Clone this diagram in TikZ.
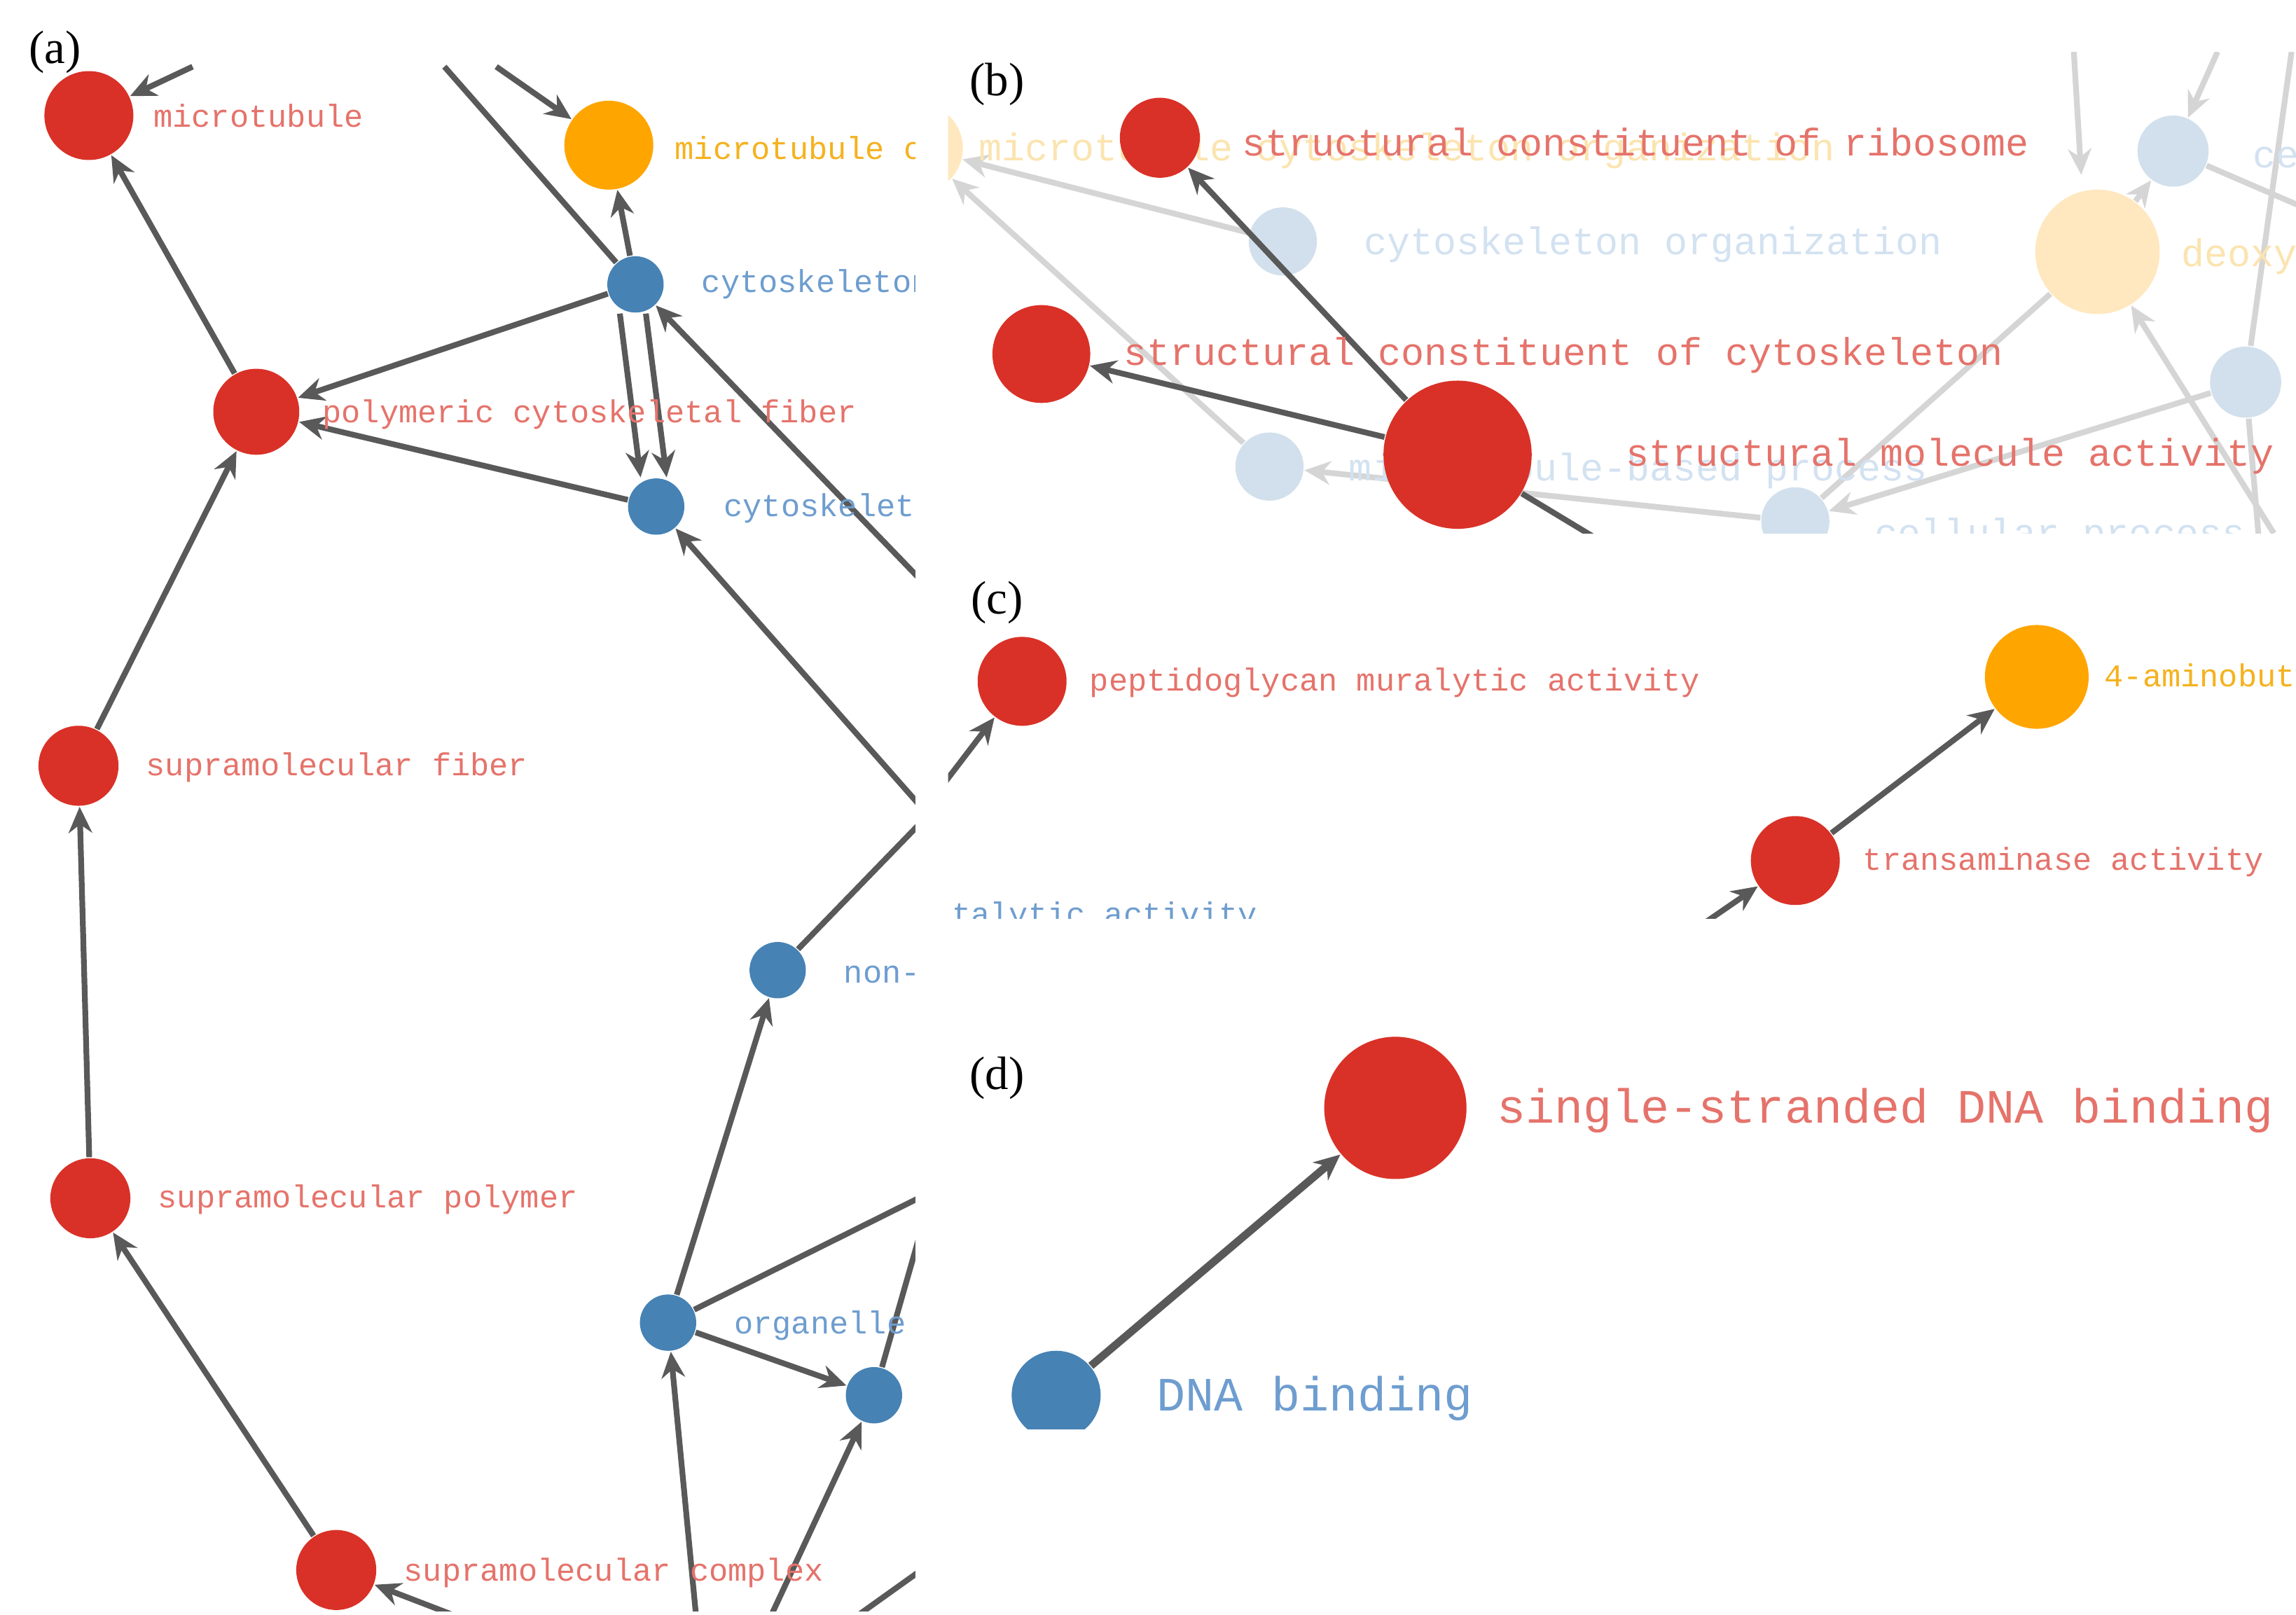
\documentclass[tikz,border=0pt]{standalone}
\usepackage{fontspec}
\setmainfont{Liberation Serif}
\newfontfamily\mono{Liberation Mono}
\usetikzlibrary{arrows.meta}
\definecolor{nred}{HTML}{D93127}
\definecolor{norg}{HTML}{FFA500}
\definecolor{nblu}{HTML}{4682B4}
\definecolor{lred}{HTML}{E5736B}
\definecolor{lorg}{HTML}{F5B21E}
\definecolor{lblu}{HTML}{6E9DCF}
\definecolor{edg}{HTML}{595959}
\tikzset{
 dot/.style={circle,fill=#1,inner sep=0pt},
 lab/.style={anchor=west,font=\mono\fontsize{6.1}{7}\selectfont,inner sep=0pt,text=#1},
 labb/.style={anchor=west,font=\mono\fontsize{7.4}{8}\selectfont,inner sep=0pt,text=#1},
 labd/.style={anchor=west,font=\mono\fontsize{9.2}{10}\selectfont,inner sep=0pt,text=#1},
 e/.style={draw=edg,line width=1.1pt,-{Stealth[length=5pt,width=4.5pt]}},
 el/.style={draw=edg,line width=1.1pt},
 fe/.style={draw=edg!25,line width=1.1pt,-{Stealth[length=5pt,width=4.5pt]}},
 fel/.style={draw=edg!25,line width=1.1pt},
 pl/.style={font=\fontsize{9}{10}\selectfont,inner sep=0pt}
}
\begin{document}
\begin{tikzpicture}[x=0.01cm,y=-0.01cm]
\useasboundingbox[fill=white] (0,0) rectangle (1550,1090);
% ---------- (a)
\begin{scope}
\clip (0,40) rectangle (618,1088);
\node[dot=nred,minimum size=0.6cm] (mt) at (60,78) {};
\node[dot=norg,minimum size=0.6cm] (mtc) at (411,98) {};
\node[dot=nblu,minimum size=0.38cm] (cs1) at (429,192) {};
\node[dot=nred,minimum size=0.58cm] (pcf) at (173,278) {};
\node[dot=nblu,minimum size=0.38cm] (cs2) at (443,342) {};
\node[dot=nred,minimum size=0.54cm] (smf) at (53,517) {};
\node[dot=nblu,minimum size=0.38cm] (non) at (525,655) {};
\node[dot=nred,minimum size=0.54cm] (smp) at (61,809) {};
\node[dot=nblu,minimum size=0.38cm] (org) at (451,893) {};
\node[dot=nblu,minimum size=0.38cm] (b2) at (590,942) {};
\node[dot=nred,minimum size=0.54cm] (smc) at (227,1060) {};
\coordinate (a1) at (130,45); \coordinate (a2) at (335,45); \coordinate (a3) at (300,45);
\coordinate (a4) at (622,392); \coordinate (a5) at (622,555); \coordinate (a6) at (622,545);
\coordinate (a7) at (622,808); \coordinate (a8) at (622,830); \coordinate (a9) at (305,1090);
\coordinate (a10) at (470,1092); \coordinate (a11) at (520,1092); \coordinate (a12) at (580,1090);
\coordinate (a13) at (622,1060);
\draw[e] (a1) -- (mt); \draw[e] (a2) -- (mtc); \draw[el] (a3) -- (cs1);
\draw[e] (pcf) -- (mt); \draw[e] (cs1) -- (pcf); \draw[e] (cs2) -- (pcf);
\draw[e] (cs1) -- (mtc);
\draw[e] ([xshift=-3]cs1.south) -- ([xshift=-3]cs2.north);
\draw[e] ([xshift=2]cs1.south) -- ([xshift=2]cs2.north);
\draw[e] (a4) -- (cs1); \draw[e] (a6) -- (cs2); \draw[el] (non) -- (a5);
\draw[e] (smf) -- (pcf); \draw[e] (smp) -- (smf); \draw[e] (smc) -- (smp);
\draw[e] (org) -- (non); \draw[e] (org) -- (b2); \draw[el] (org) -- (a7); \draw[el] (b2) -- (a8);
\draw[e] (a9) -- (smc); \draw[e] (a10) -- (org); \draw[e] (a11) -- (b2); \draw[el] (a12) -- (a13);
\node[lab=lred] (tmt) at (103,78) {microtubule};
\node[lab=lorg] (tmtc) at (455,100) {microtubule c};
\node[lab=lblu] (tcs1) at (473,192) {cytoskeleton};
\node[lab=lred] (tpcf) at (217,280) {polymeric cytoskeletal fiber};
\node[lab=lblu] (tcs2) at (488,343) {cytoskeleton};
\node[lab=lred] (tsmf) at (98,518) {supramolecular fiber};
\node[lab=lblu] (tnon) at (569,656) {non-membrane};
\node[lab=lred] (tsmp) at (106,810) {supramolecular polymer};
\node[lab=lblu] (torg) at (495,895) {organelle};
\node[lab=lred] (tsmc) at (272,1062) {supramolecular complex};
\end{scope}
\node[pl] (pa) at (37,35) {(a)};
% ---------- (b)
\begin{scope}
\clip (640,35) rectangle (1550,360);
\node[dot=norg!25,minimum size=0.6cm] (fo1) at (620,100) {};
\node[dot=nblu!25,minimum size=0.46cm] (fb1) at (866,163) {};
\node[dot=nblu!25,minimum size=0.46cm] (fb2) at (857,315) {};
\node[dot=nblu!25,minimum size=0.46cm] (fb3) at (1212,352) {};
\node[dot=norg!25,minimum size=0.84cm] (fo2) at (1416,170) {};
\node[dot=nblu!25,minimum size=0.48cm] (fb4) at (1467,102) {};
\node[dot=nblu!25,minimum size=0.48cm] (fb5) at (1516,258) {};
\coordinate (b1) at (1400,35); \coordinate (b2x) at (1497,35); \coordinate (b3) at (1547,35);
\coordinate (b4) at (1555,140); \coordinate (b5) at (1525,365); \coordinate (b6) at (1080,365);
\coordinate (b7) at (1535,360);
\draw[fe] (fb1) -- (fo1); \draw[fe] (fb2) -- (fo1);
\draw[fe] (fb3) -- (fb2); \draw[fe] (fb5) -- (fb3); \draw[fel] (fb3) -- (fo2);
\draw[fe] (fo2) -- (fb4);
\draw[fe] (b1) -- (1405,118); \draw[fe] (b2x) -- (fb4); \draw[fel] (b3) -- (fb5);
\draw[fel] (fb4) -- (b4); \draw[fel] (fb5) -- (b5); \draw[fe] (b7) -- (fo2);
\node[labb=lorg!35] (tfo1) at (660,102) {microtubule cytoskeleton organization};
\node[labb=lblu!30] (tfb1) at (920,165) {cytoskeleton organization};
\node[labb=lblu!30] (tfb2) at (910,318) {microtubule-based process};
\node[labb=lblu!30] (tfb3) at (1265,362) {cellular process};
\node[labb=lorg!35] (tfo2) at (1472,173) {deoxyribonucleotide};
\node[labb=lblu!30] (tfb4) at (1520,104) {cell};
\node[dot=nred,minimum size=0.54cm] (rib) at (783,93) {};
\node[dot=nred,minimum size=0.66cm] (csc) at (703,239) {};
\node[dot=nred,minimum size=1.0cm] (sma) at (984,307) {};
\draw[e] (sma) -- (rib); \draw[e] (sma) -- (csc); \draw[el] (sma) -- (b6);
\node[labb=lred] (trib) at (838,96) {structural constituent of ribosome};
\node[labb=lred] (tcsc) at (758,240) {structural constituent of cytoskeleton};
\node[labb=lred] (tsma) at (1097,308) {structural molecule activity};
\end{scope}
\node[pl] (pb) at (673,57) {(b)};
% ---------- (c)
\begin{scope}
\clip (640,385) rectangle (1550,620);
\node[dot=nred,minimum size=0.6cm] (pep) at (690,460) {};
\node[dot=norg,minimum size=0.7cm] (amb) at (1375,457) {};
\node[dot=nred,minimum size=0.6cm] (tra) at (1212,581) {};
\coordinate (c1) at (635,532); \coordinate (c2) at (1148,625);
\draw[e] (c1) -- (pep); \draw[e] (tra) -- (amb); \draw[e] (c2) -- (tra);
\node[lab=lred] (tpep) at (735,461) {peptidoglycan muralytic activity};
\node[lab=lorg] (tamb) at (1420,458) {4-aminobutyrate};
\node[lab=lred] (ttra) at (1257,582) {transaminase activity};
\node[lab=lblu] (tcat) at (642,619) {talytic activity};
\end{scope}
\node[pl] (pc) at (673,407) {(c)};
% ---------- (d)
\begin{scope}
\clip (640,680) rectangle (1550,965);
\node[dot=nred,minimum size=0.96cm] (ss) at (942,748) {};
\node[dot=nblu,minimum size=0.6cm] (dna) at (713,942) {};
\draw[e,line width=1.5pt] (dna) -- (ss);
\node[labd=lred] (tss) at (1010,750) {single-stranded DNA binding};
\node[labd=lblu] (tdna) at (780,944) {DNA binding};
\end{scope}
\node[pl] (pd) at (673,728) {(d)};
\end{tikzpicture}
\end{document}
